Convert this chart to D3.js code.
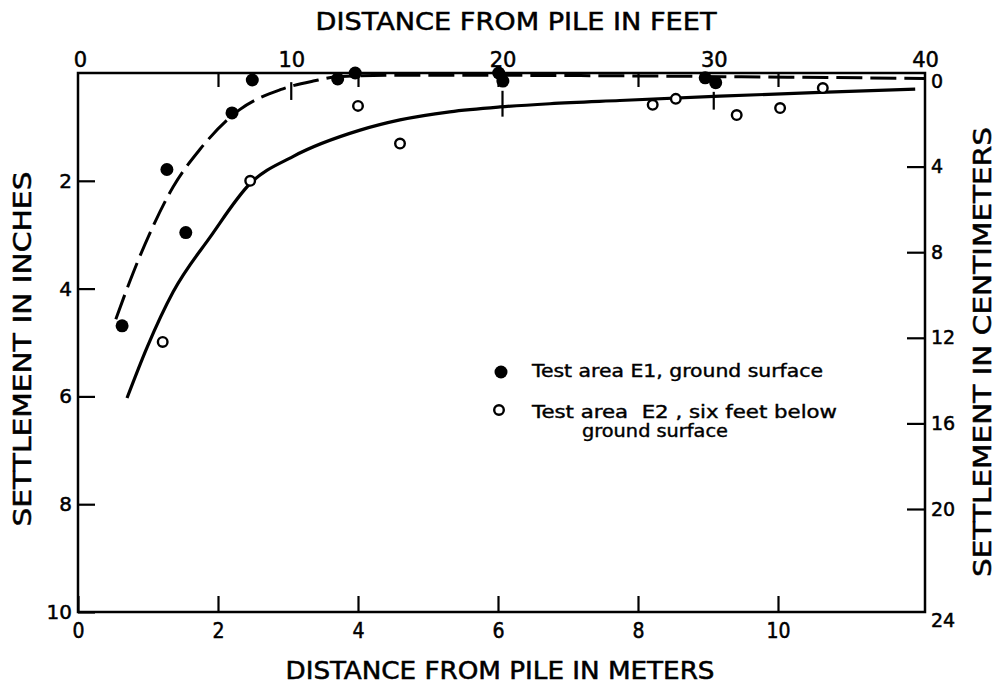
<!DOCTYPE html>
<html><head><meta charset="utf-8">
<script src="https://cdn.jsdelivr.net/npm/d3@7"></script>
<style>body{margin:0;background:#fff}</style>
</head><body><svg id="c" width="996" height="684"></svg>
<script>
// ---- data ----
const meterTicks = [0, 2, 4, 6, 8, 10];
const meterTopTicks = [2, 4, 6, 8, 10];
const feetTicks = [0, 10, 20, 30, 40];
const inchTicks = [2, 4, 6, 8, 10];
const cmTicks = [0, 4, 8, 12, 16, 20, 24];
const cmTickMarks = [4, 8, 12, 16, 20];

// Test area E1 (filled points), distance in meters, settlement in inches
const e1Dist   = [0.63, 1.27, 1.54, 2.20, 2.49, 3.71, 3.96, 6.01, 6.07, 8.96, 9.11];
const e1Settle = [4.69, 1.79, 2.96, 0.74, 0.13, 0.11, 0.00, 0.00, 0.15, 0.09, 0.18];
// Test area E2 (open points)
const e2Dist   = [1.21, 2.46, 4.00, 4.60, 8.21, 8.54, 9.41, 10.03, 10.64];
const e2Settle = [4.99, 2.00, 0.61, 1.31, 0.59, 0.48, 0.78, 0.65, 0.28];

// fitted curves
const e1CurveDist   = [0.54, 0.79, 1.07, 1.36, 1.74, 2.31, 2.89, 3.36, 3.70, 4.60, 7.46, 10.31, 12.10];
const e1CurveSettle = [4.57, 3.70, 2.85, 2.11, 1.42, 0.68, 0.31, 0.15, 0.07, 0.04, 0.05, 0.08, 0.10];
const e2CurveDist   = [0.70, 0.99, 1.36, 1.89, 2.46, 3.07, 4.03, 4.60, 5.31, 6.03, 6.74, 7.74, 9.17, 10.60, 11.96];
const e2CurveSettle = [6.03, 5.08, 4.06, 3.04, 2.05, 1.55, 1.06, 0.87, 0.72, 0.63, 0.57, 0.51, 0.43, 0.36, 0.30];

// feet marks crossing the curves: feet, from (in), to (in)
const feetMarkFeet = [10, 20, 30];
const feetMarkFrom = [0.17, 0.33, 0.35];
const feetMarkTo   = [0.50, 0.81, 0.68];

const legendLabels = ["Test area E1, ground surface", "Test area  E2 , six feet below", "ground surface"];

// ---- layout ----
const L = 78, R = 925, T = 73, B = 612;
const FONT = "DejaVu Sans";
const svg = d3.select("#c");

const x = d3.scaleLinear().domain([0, 12.1]).range([L, R]);
const xFt = d3.scaleLinear().domain([0, 40]).range([80, R]);
const y = d3.scaleLinear().domain([0, 10]).range([T, B]);
const yCm = d3.scaleLinear().domain([0, 20, 24]).range([T + 8, T + 436, B + 8]);

// frame
svg.append("rect").attr("x", L).attr("y", T).attr("width", R - L).attr("height", B - T)
  .attr("fill", "none").attr("stroke", "#000").attr("stroke-width", 2.5);

// left axis (inches)
const gL = svg.append("g").attr("transform", `translate(${L},0)`)
  .call(d3.axisLeft(y).tickValues(inchTicks).tickSize(-17).tickPadding(6).tickFormat(d3.format("d")));
// bottom axis (meters)
const gB = svg.append("g").attr("transform", `translate(0,${B})`)
  .call(d3.axisBottom(x).tickValues(meterTicks).tickSize(-16).tickPadding(11).tickFormat(d3.format("d")));
// top axis (feet labels)
const gT = svg.append("g").attr("transform", `translate(0,${T})`)
  .call(d3.axisTop(xFt).tickValues(feetTicks).tickSize(0).tickPadding(6).tickFormat(d3.format("d")));
// top meter marks hanging from the border
const gT2 = svg.append("g").attr("transform", `translate(0,${T})`)
  .call(d3.axisTop(x).tickValues(meterTopTicks).tickSize(-14).tickFormat(""));
// right axis (cm)
const gR = svg.append("g").attr("transform", `translate(${R},0)`)
  .call(d3.axisRight(yCm).tickValues(cmTicks).tickSize(-18).tickPadding(6).tickFormat(d3.format("d")));
gR.selectAll(".tick").filter(d => !cmTickMarks.includes(d)).select("line").remove();

[gL, gB, gT, gT2, gR].forEach(g => {
  g.select(".domain").remove();
  g.selectAll("line").attr("stroke", "#000").attr("stroke-width", 2.2);
  g.selectAll("text").attr("font-family", FONT).attr("font-size", 20).attr("fill", "#000")
    .attr("stroke", "#000").attr("stroke-width", 0.5);
});
gT.selectAll("text").attr("font-size", 21);
gR.selectAll("text").attr("font-size", 19);
gB.selectAll("text").attr("font-family", "DejaVu Sans Condensed").attr("font-size", 21);

// feet marks crossing curves
svg.append("g").selectAll("line").data(feetMarkFeet).join("line")
  .attr("x1", d => xFt(d)).attr("x2", d => xFt(d))
  .attr("y1", (d, i) => y(feetMarkFrom[i])).attr("y2", (d, i) => y(feetMarkTo[i]))
  .attr("stroke", "#000").attr("stroke-width", 2.2);

// curves
const line = d3.line().x(d => x(d[0])).y(d => y(d[1])).curve(d3.curveMonotoneX);
svg.append("path").datum(e1CurveDist.map((d, i) => [d, e1CurveSettle[i]]))
  .attr("d", line).attr("fill", "none").attr("stroke", "#000").attr("stroke-width", 3)
  .attr("stroke-dasharray", "26,8");
svg.append("path").datum(e2CurveDist.map((d, i) => [d, e2CurveSettle[i]]))
  .attr("d", line).attr("fill", "none").attr("stroke", "#000").attr("stroke-width", 3.2);

// points
svg.append("g").selectAll("circle").data(e1Dist).join("circle")
  .attr("cx", d => x(d)).attr("cy", (d, i) => y(e1Settle[i])).attr("r", 6.5).attr("fill", "#000");
svg.append("g").selectAll("circle").data(e2Dist).join("circle")
  .attr("cx", d => x(d)).attr("cy", (d, i) => y(e2Settle[i])).attr("r", 4.8)
  .attr("fill", "#fff").attr("stroke", "#000").attr("stroke-width", 2.4);

// titles
function title(txt, cx, cy, len, size, rot, fam) {
  svg.append("text").attr("transform", `translate(${cx},${cy}) rotate(${rot})`)
    .attr("text-anchor", "middle").attr("font-family", fam || FONT).attr("font-size", size)
    .attr("textLength", len).attr("lengthAdjust", "spacingAndGlyphs").attr("fill", "#000")
    .attr("stroke", "#000").attr("stroke-width", 0.5).text(txt);
}
title("DISTANCE FROM PILE IN FEET", 516, 30, 401, 24, 0);
title("DISTANCE FROM PILE IN METERS", 500, 679, 429, 25, 0, "DejaVu Sans Condensed");
title("SETTLEMENT IN INCHES", 31, 349, 355, 25, -90);
title("SETTLEMENT IN CENTIMETERS", 991, 352, 450, 25, -90);

// legend
const lg = svg.append("g");
lg.append("circle").attr("cx", 501).attr("cy", 372).attr("r", 6.5).attr("fill", "#000");
lg.append("circle").attr("cx", 499).attr("cy", 410).attr("r", 4.8).attr("fill", "#fff")
  .attr("stroke", "#000").attr("stroke-width", 2.4);
const lgPos = [[532, 377, 291], [532, 418, 305], [582, 437, 146]];
lg.selectAll("text").data(legendLabels).join("text")
  .attr("x", (d, i) => lgPos[i][0]).attr("y", (d, i) => lgPos[i][1])
  .attr("textLength", (d, i) => lgPos[i][2]).attr("lengthAdjust", "spacingAndGlyphs")
  .attr("font-family", FONT).attr("font-size", 17).attr("fill", "#000")
  .attr("stroke", "#000").attr("stroke-width", 0.4)
  .attr("xml:space", "preserve").style("white-space", "pre").text(d => d);
</script>
</body></html>
